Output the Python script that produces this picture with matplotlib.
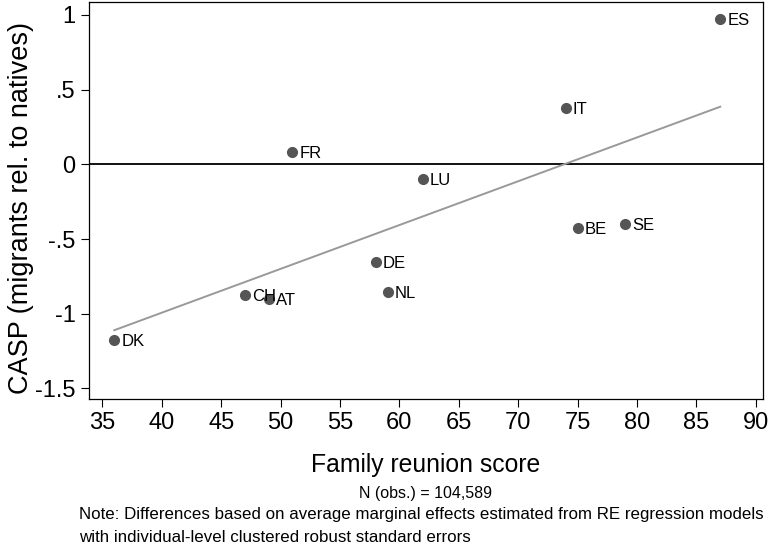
import numpy as np
import matplotlib
matplotlib.use("Agg")
import matplotlib.pyplot as plt

# country-level data
countries = ["ES", "IT", "FR", "LU", "DE", "NL", "BE", "SE", "DK", "CH", "AT"]
reunion_score = [87, 74, 51, 62, 58, 59, 75, 79, 36, 47, 49]
casp_diff = [0.973, 0.375, 0.084, -0.098, -0.652, -0.853, -0.425, -0.402, -1.177, -0.875, -0.904]

# fitted line end points
fit_x = [36, 87]
fit_y = [-1.11, 0.386]

xticks = [35, 40, 45, 50, 55, 60, 65, 70, 75, 80, 85, 90]
yticks = [1, 0.5, 0, -0.5, -1, -1.5]
ytick_labels = ["1", ".5", "0", "-.5", "-1", "-1.5"]

plt.rcParams["font.family"] = ["Liberation Sans", "DejaVu Sans"]

fig = plt.figure(figsize=(7.71, 5.48), dpi=100)
ax = fig.add_axes([0.1158, 0.2728, 0.8738, 0.7241])

ax.axhline(0, color="black", lw=1.3, zorder=1)
ax.plot(fit_x, fit_y, color="#999999", lw=1.4, zorder=2)
ax.plot(reunion_score, casp_diff, "o", color="#555555", ms=7, zorder=3)
for c, x, y in zip(countries, reunion_score, casp_diff):
    ax.annotate(c, (x, y), xytext=(5, -1), textcoords="offset points",
                ha="left", va="center", fontsize=12)

ax.set_xlim(33.9, 90.6)
ax.set_ylim(-1.567, 1.089)
ax.set_xticks(xticks)
ax.set_yticks(yticks)
ax.set_yticklabels(ytick_labels)
ax.tick_params(axis="both", direction="out", length=6, width=0.8, labelsize=17, pad=4)
for s in ax.spines.values():
    s.set_linewidth(0.9)

ax.set_ylabel("CASP (migrants rel. to natives)", fontsize=19.5, va="center")
ax.yaxis.set_label_coords(-0.1014, 0.481)

fig.text(0.552, 0.152, "Family reunion score", ha="center", va="center", fontsize=17.8)
fig.text(0.552, 0.100, "N (obs.) = 104,589", ha="center", va="center", fontsize=11.5)
fig.text(0.103, 0.062, "Note: Differences based on average marginal effects estimated from RE regression models",
         ha="left", va="center", fontsize=12.2)
fig.text(0.103, 0.020, "with individual-level clustered robust standard errors",
         ha="left", va="center", fontsize=12.2)

fig.savefig("out.png", dpi=100)
